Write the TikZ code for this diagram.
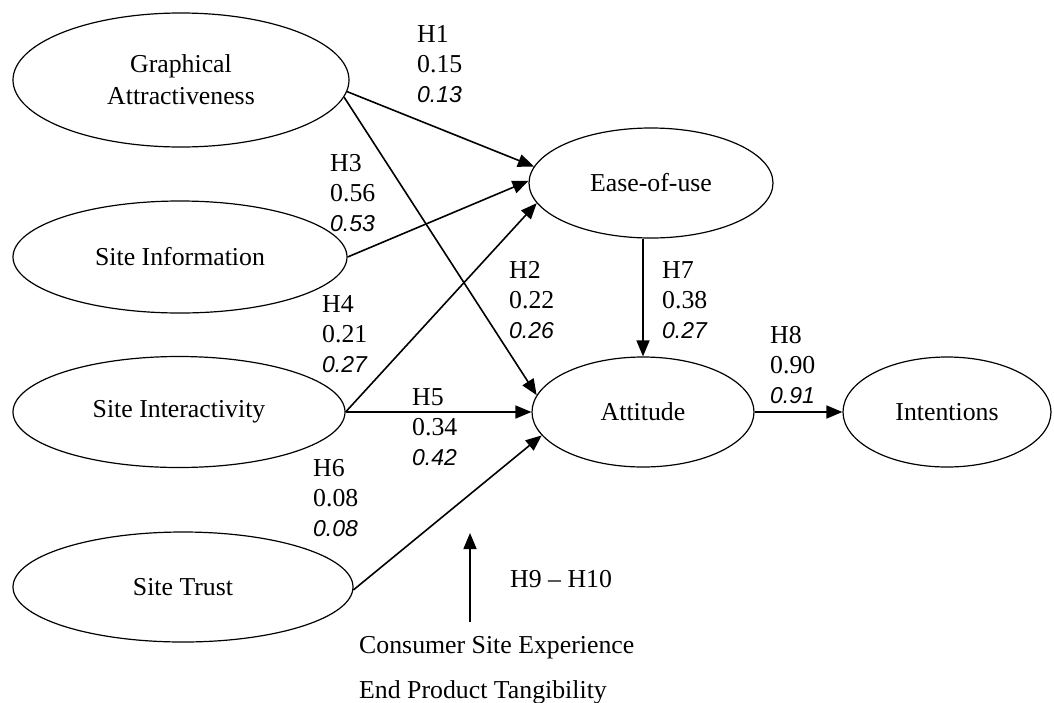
\documentclass[tikz,border=0pt]{standalone}
\usepackage{fontspec}
\setmainfont{Liberation Serif}
\newfontfamily\valfont{Liberation Sans}
\usetikzlibrary{shapes.geometric,arrows.meta}
\newcommand{\ivl}[1]{{\valfont\itshape\fontsize{23}{30}\selectfont #1}}
\begin{document}
\begin{tikzpicture}[x=1pt,y=-1pt,
  every node/.style={font=\fontsize{25.8}{30}\selectfont},
  construct/.style={draw, ellipse, line width=1.2pt, inner sep=0pt, align=center},
  lab/.style={anchor=base west, align=left, inner sep=0pt},
  arr/.style={line width=1.6pt, -{Triangle[length=16pt,width=13pt]}}]
\useasboundingbox (0,0) rectangle (1054,702);
% constructs
\node[construct, minimum width=336pt, minimum height=134pt, font=\fontsize{25.8}{32}\selectfont] (ga) at (181,80) {Graphical\\Attractiveness};
\node[construct, minimum width=334pt, minimum height=112pt] (si) at (180,257) {Site Information};
\node[construct, minimum width=332pt, minimum height=111pt] (sint) at (179,412) {Site Interactivity};
\node[construct, minimum width=340pt, minimum height=110pt] (st) at (183,587) {Site Trust};
\node[construct, minimum width=244pt, minimum height=110pt] (ease) at (651,183) {Ease-of-use};
\node[construct, minimum width=222pt, minimum height=110pt] (att) at (643,412) {Attitude};
\node[construct, minimum width=208pt, minimum height=110pt] (int) at (947,412) {Intentions};
% connectors
\draw[arr] (ga.-4) -- (ease.172);
\draw[arr] (ga.-6) -- (att.171);
\draw[arr] (si.east) -- (ease.179);
\draw[arr] (sint.east) -- (ease.190);
\draw[arr] (sint.east) -- (att.west);
\draw[arr] (st.-1) -- (att.193);
\draw[arr] (att.north |- ease.south) -- (att.north);
\draw[arr] (att.east) -- (int.west);
% moderators
\coordinate (modbot) at (470,622);
\coordinate (modtop) at (470,533);
\draw[arr] (modbot) -- (modtop);
% labels (anchor = baseline of the last line)
\node[lab] (l1) at (417,102) {H1\\0.15\\\ivl{0.13}};
\node[lab] (l3) at (330,231) {H3\\0.56\\\ivl{0.53}};
\node[lab] (l4) at (322,372) {H4\\0.21\\\ivl{0.27}};
\node[lab] (l2) at (509,338) {H2\\0.22\\\ivl{0.26}};
\node[lab] (l7) at (662,338) {H7\\0.38\\\ivl{0.27}};
\node[lab] (l8) at (770,403) {H8\\0.90\\\ivl{0.91}};
\node[lab] (l5) at (412,465) {H5\\0.34\\\ivl{0.42}};
\node[lab] (l6) at (313,536) {H6\\0.08\\\ivl{0.08}};
\node[lab] (l9) at (510,587) {H9 -- H10};
\node[lab] (cse) at (359,653) {Consumer Site Experience};
\node[lab] (ept) at (359,698) {End Product Tangibility};
\end{tikzpicture}
\end{document}
